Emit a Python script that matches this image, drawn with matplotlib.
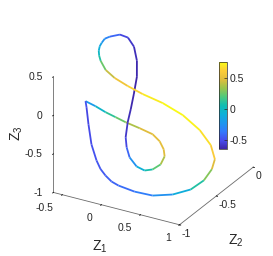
import numpy as np
import matplotlib.pyplot as plt
from matplotlib.colors import LinearSegmentedColormap, Normalize
from matplotlib.cm import ScalarMappable
from matplotlib.ticker import FormatStrFormatter
from mpl_toolkits.mplot3d import proj3d
from mpl_toolkits.mplot3d.art3d import Line3DCollection

plt.rcParams['font.family'] = ['Liberation Sans', 'DejaVu Sans']
plt.rcParams['mathtext.default'] = 'regular'
plt.rcParams['axes.unicode_minus'] = False

# latent trajectory
z1 = [-0.392, -0.283, -0.183, -0.083, 0.027, 0.188, 0.354, 0.463, 0.552, 0.602,
      0.588, 0.504, 0.402, 0.262, 0.125, 0.040, -0.048, -0.116, -0.152, -0.198,
      -0.244, -0.319, -0.413, -0.509, -0.565, -0.590, -0.603, -0.590, -0.578, -0.553,
      -0.500, -0.434, -0.304, -0.152, 0.034, 0.226, 0.464, 0.683, 0.845, 0.929,
      0.962, 0.942, 0.887, 0.785, 0.629, 0.448, 0.236, 0.049, -0.031, -0.098,
      -0.158, -0.204, -0.269, -0.326, -0.370, -0.392]
z2 = [-0.80, -0.78, -0.75, -0.72, -0.70, -0.68, -0.68, -0.70, -0.74, -0.78,
      -0.82, -0.84, -0.84, -0.80, -0.75, -0.70, -0.62, -0.52, -0.44, -0.35,
      -0.26, -0.18, -0.12, -0.10, -0.15, -0.26, -0.315, -0.37, -0.41, -0.45,
      -0.50, -0.55, -0.62, -0.66, -0.68, -0.68, -0.66, -0.62, -0.56, -0.50,
      -0.48, -0.50, -0.55, -0.62, -0.70, -0.78, -0.80, -0.82, -0.83, -0.84,
      -0.845, -0.85, -0.85, -0.83, -0.81, -0.80]
z3 = [0.092, 0.040, -0.034, -0.095, -0.147, -0.198, -0.233, -0.281, -0.332, -0.381,
      -0.459, -0.531, -0.571, -0.585, -0.540, -0.469, -0.421, -0.318, -0.217, -0.101,
      0.042, 0.172, 0.285, 0.363, 0.425, 0.474, 0.485, 0.477, 0.464, 0.442,
      0.428, 0.417, 0.385, 0.351, 0.310, 0.255, 0.185, 0.056, -0.142, -0.360,
      -0.549, -0.669, -0.790, -0.882, -0.928, -0.929, -0.918, -0.873, -0.834, -0.767,
      -0.693, -0.591, -0.399, -0.168, 0.027, 0.092]
val = [-0.30, -0.10, 0.05, 0.20, 0.30, 0.45, 0.50, 0.50, 0.50, 0.45,
       0.30, 0.15, 0.00, -0.15, -0.35, -0.50, -0.55, -0.60, -0.62, -0.645,
       -0.645, -0.62, -0.60, -0.55, -0.50, -0.35, -0.28, -0.20, -0.12, -0.05,
       0.05, 0.15, 0.35, 0.50, 0.60, 0.68, 0.74, 0.758, 0.70, 0.65,
       0.55, 0.40, 0.20, 0.00, -0.20, -0.30, -0.38, -0.42, -0.44, -0.45,
       -0.47, -0.48, -0.50, -0.52, -0.52, -0.45]

z1_ticks = [-0.5, 0, 0.5, 1]
z2_ticks = [-1, -0.5, 0]
z3_ticks = [-1, -0.5, 0, 0.5]
cbar_ticks = [-0.5, 0, 0.5]
x0, x1 = -0.615, 1.0
y0, y1 = -1, 0
zb, zt = -1, 0.5

# rough parula
parula = LinearSegmentedColormap.from_list('parula', [
    (0.2422, 0.1504, 0.6603), (0.2780, 0.2990, 0.9300), (0.2000, 0.4750, 0.9900),
    (0.1150, 0.5900, 0.9300), (0.0500, 0.6900, 0.8500), (0.0650, 0.7400, 0.7000),
    (0.3000, 0.7900, 0.4900), (0.6000, 0.7700, 0.3000), (0.8800, 0.7400, 0.2400),
    (0.9900, 0.8000, 0.2200), (0.9769, 0.9839, 0.0805)])
norm = Normalize(min(val), max(val))

pts = np.column_stack([z1, z2, z3])
segs = np.stack([pts[:-1], pts[1:]], axis=1)
seg_val = 0.5 * (np.array(val[:-1]) + np.array(val[1:]))

fig = plt.figure(figsize=(2.73, 2.56), dpi=100)
ax = fig.add_axes([0.1476, 0.0825, 0.806, 0.859], projection='3d')
ax.set_proj_type('ortho')
ax.view_init(elev=26.6, azim=-60.2)
ax.set_box_aspect((1.0, 1.02, 0.89), zoom=1.08)

lc = Line3DCollection(segs, cmap=parula, norm=norm, linewidth=1.3)
lc.set_array(seg_val)
ax.add_collection3d(lc)

ax.set_xlim(x0, x1)
ax.set_ylim(y0, y1)
ax.set_zlim(zb, zt)
ax.set_xticks(z1_ticks)
ax.set_yticks(z2_ticks)
ax.set_zticks(z3_ticks)
ax.grid(False)

for axis in (ax.xaxis, ax.yaxis, ax.zaxis):
    axis.set_pane_color((1, 1, 1, 0))
    axis.pane.set_edgecolor((1, 1, 1, 0))
    axis.line.set_color('#6a6a6a')
    axis.line.set_linewidth(0.6)
    axis.set_tick_params(label1On=False, label2On=False)
    axis._axinfo['tick']['inward_factor'] = 0.12
    axis._axinfo['tick']['outward_factor'] = 0.0
    axis._axinfo['tick']['linewidth'] = {True: 0.6, False: 0.4}
    axis._axinfo['tick']['color'] = '#6a6a6a'

ax.zaxis.set_ticks_position('lower')

fig.canvas.draw()
M = ax.get_proj()


def label3d(x, y, z, s, **kw):
    # project once and put a plain 2D text there
    px, py, _ = proj3d.proj_transform(x, y, z, M)
    ax.text2D(px, py, s, transform=ax.transData, **kw)


# tick labels placed the way MATLAB does it
txt = dict(fontsize=7.5, color='#262626')
for t in z1_ticks:
    label3d(t, y0 - 0.12, zb - 0.08, '%g' % t, ha='right', va='center', **txt)
for t in z2_ticks:
    label3d(x1 + 0.03, t, zb - 0.11, '%g' % t, ha='left', va='center', **txt)
for t in z3_ticks:
    label3d(x0 - 0.1, y0 - 0.04, t, '%g' % t, ha='right', va='center', **txt)

lab = dict(fontsize=10, color='#262626', ha='center', va='center')
label3d(0.2, y0 - 0.24, zb - 0.31, '$Z_1$', **lab)
label3d(x1 + 0.25, -0.5, zb - 0.52, '$Z_2$', **lab)
label3d(x0 - 0.474, y0, -0.36, '$Z_3$', rotation=90, **lab)

cax = fig.add_axes([219 / 273, 1 - 149 / 256, 8 / 273, 87 / 256])
cb = fig.colorbar(ScalarMappable(norm=norm, cmap=parula), cax=cax)
cb.set_ticks(cbar_ticks)
cb.ax.yaxis.set_major_formatter(FormatStrFormatter('%g'))
cb.ax.tick_params(labelsize=7.5, colors='#262626', direction='in', length=2, width=0.5, pad=2)
cb.outline.set_edgecolor('#262626')
cb.outline.set_linewidth(0.5)

fig.savefig('out.png', dpi=100)
